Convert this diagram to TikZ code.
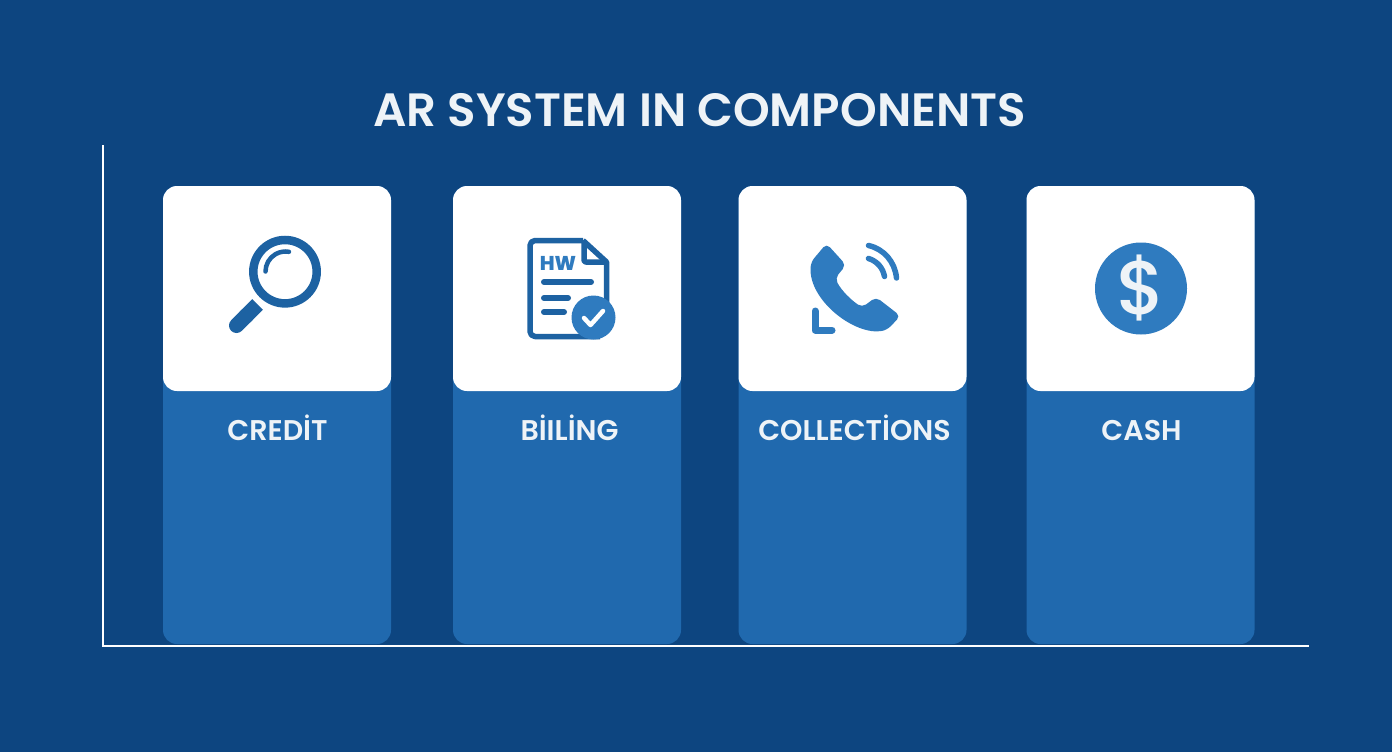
\documentclass[tikz,border=0pt]{standalone}
\usepackage{fontspec}
\setmainfont{Poppins}[BoldFont={Poppins SemiBold}]
\newfontfamily\heavyfont{Poppins ExtraBold}
\newfontfamily\mediumfont{Poppins Medium}
\definecolor{bgblue}{HTML}{0D4580}
\definecolor{panelblue}{HTML}{2069AE}
\definecolor{darkicon}{HTML}{1D62A2}
\definecolor{lighticon}{HTML}{2F7BBF}
\definecolor{offwhite}{HTML}{EEF3F7}
\tikzset{
  panelbox/.style={fill=panelblue, rounded corners=14pt, minimum width=228pt, minimum height=458pt, inner sep=0pt},
  whitebox/.style={fill=white, rounded corners=14pt, minimum width=228pt, minimum height=205pt, inner sep=0pt},
  cardlabel/.style={text=offwhite, font=\fontsize{28.5}{28.5}\selectfont\bfseries, inner sep=0pt, anchor=base},
  axisline/.style={draw=white, line width=1.6pt},
  iconline/.style={line width=6pt, line cap=round, line join=round}
}
\begin{document}
\begin{tikzpicture}[x=1pt, y=-1pt]
    \useasboundingbox (0, 0) rectangle (1392, 752);
    \fill[bgblue](0, 0) rectangle (1392, 752);

    \node[text=offwhite, font=\fontsize{46.7}{46.7}\selectfont\bfseries, inner sep=0pt, anchor=base] (title) at(699.5, 126){AR SYSTEM IN COMPONENTS};

    \coordinate (axistop) at(103, 145);
    \coordinate (axiscorner) at(103, 646);
    \coordinate (axisend) at(1309, 646);
    \draw[axisline](axistop) -- (axiscorner) -- (axisend);

    \node[panelbox] (creditpanel) at(277, 415){};
    \node[panelbox] (billingpanel) at(567, 415){};
    \node[panelbox] (collectionspanel) at(852.5, 415){};
    \node[panelbox] (cashpanel) at(1140.5, 415){};

    \node[whitebox] (creditcard) at(277, 288.5){};
    \node[whitebox] (billingcard) at(567, 288.5){};
    \node[whitebox] (collectionscard) at(852.5, 288.5){};
    \node[whitebox] (cashcard) at(1140.5, 288.5){};

    \node[cardlabel] (creditlabel) at(277.5, 440){CREDİT};
    \node[cardlabel] (billinglabel) at(569.5, 440){BİILİNG};
    \node[cardlabel] (collectionslabel) at(854.5, 440){COLLECTİONS};
    \node[cardlabel] (cashlabel) at(1141.5, 440){CASH};

    % magnifier
    \draw[darkicon, line width=8.5pt](285, 271.7) circle (31.7);
    \draw[darkicon, line width=4.5pt, line cap=round](265.5, 271.5) arc (180:280:20);
    \draw[darkicon, line width=15pt, line cap=round](236.5, 325.5) -- (247, 315);
    \draw[darkicon, line width=15pt](245, 317) -- (257.5, 304.5);

    % invoice
    \draw[darkicon, line width=5.5pt, line join=round, rounded corners=5pt](583, 240.5) -- (530, 240.5) -- (530, 336.5) -- (600, 336.5);
    \draw[darkicon, line width=5.5pt, line join=round](583, 240.5) -- (606.5, 262) -- (606.5, 305);
    \draw[darkicon, line width=5.5pt, line join=round, rounded corners=2pt](584, 241) -- (584, 262) -- (606, 262);
    \node[text=lighticon, font=\fontsize{20}{20}\selectfont\heavyfont, inner sep=0pt] (invoicemark) at(558, 263){HW};
    \draw[darkicon, iconline](544, 282) -- (591, 282);
    \draw[darkicon, iconline](544, 298) -- (568, 298);
    \draw[darkicon, iconline](544, 312) -- (564, 312);
    \fill[lighticon](593.5, 317.5) circle (22);
    \draw[white, line width=4.5pt, line cap=round, line join=round](584, 318) -- (590.5, 325) -- (603, 311);

    % phone
    \fill[lighticon, rounded corners=5pt](826.5, 243.5) -- (846, 265) -- (835, 278.5) .. controls (842, 291) and (850, 299) .. (862, 307.5) -- (876, 297) -- (900.5, 316) -- (887, 330) .. controls (855, 336) and (808, 300) .. (811, 262) -- cycle;
    \draw[lighticon, line width=5.5pt, line cap=round](868.5, 245.5) .. controls (884, 249) and (895, 262) .. (896.5, 278);
    \draw[lighticon, line width=5.5pt, line cap=round](868.5, 258.5) .. controls (877, 261) and (883, 268) .. (884.5, 276.5);
    \draw[lighticon, line width=7pt, line cap=round, line join=round](815, 311) -- (815, 330) -- (832, 330);

    % dollar
    \fill[lighticon](1141, 288.5) circle (46);
    \node[text=offwhite, font=\fontsize{76}{76}\selectfont\mediumfont, inner sep=0pt] (dollarsign) at(1141, 288.5){\$};
\end{tikzpicture}
\end{document}
